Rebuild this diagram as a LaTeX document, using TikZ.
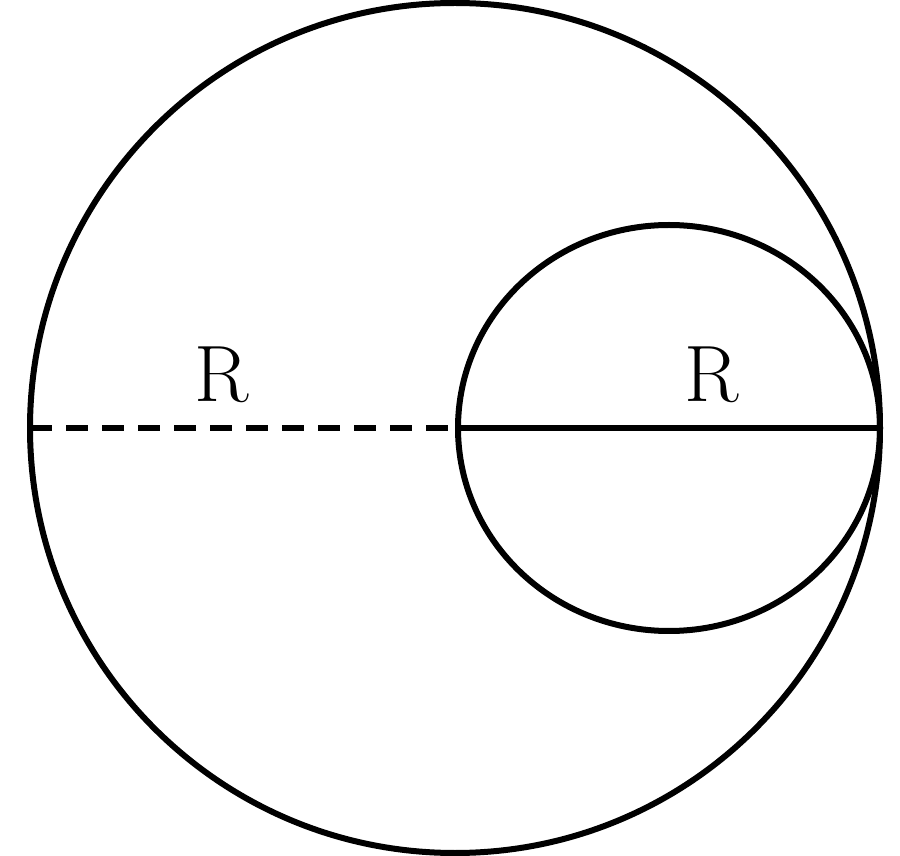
\documentclass[tikz,border=0pt]{standalone}
\usepackage{tikz}
\begin{document}
\begin{tikzpicture}[x=1pt,y=1pt,
  every node/.style={font=\fontsize{80}{80}\selectfont},
  rim/.style={line width=6pt}]
  \useasboundingbox (0,0) rectangle (900,855);
  \coordinate (O) at (455,427);
  \coordinate (L) at (30,427);
  \coordinate (M) at (458,427);
  \coordinate (E) at (880,427);
  \draw[rim] (O) circle (425);
  \draw[rim] (669,427) ellipse (211 and 203);
  \draw[rim, dash pattern=on 22pt off 14pt] (L) -- (M);
  \draw[rim] (M) -- (E);
  \node (R1) at (222,480) {R};
  \node (R2) at (712,480) {R};
\end{tikzpicture}
\end{document}
